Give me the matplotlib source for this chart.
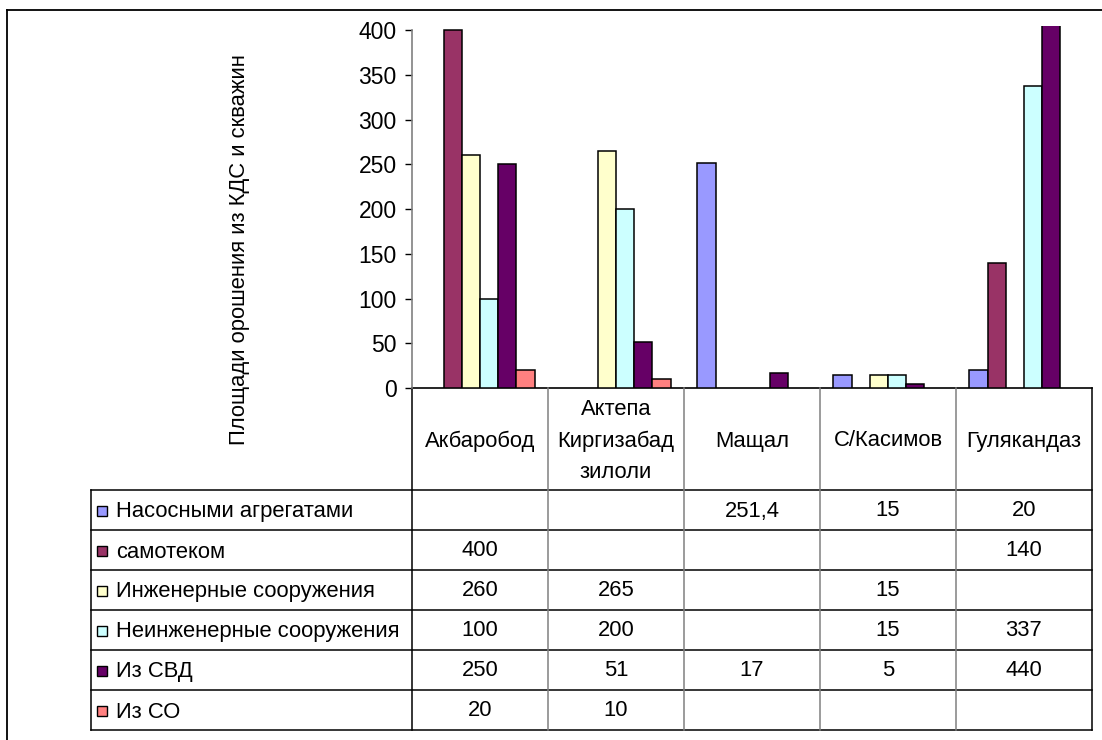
import numpy as np
import matplotlib
matplotlib.use("Agg")
import matplotlib.pyplot as plt
from matplotlib.transforms import blended_transform_factory

plt.rcParams['font.family'] = ['Liberation Sans', 'DejaVu Sans']

categories = ["Акбаробод", "Актепа\nКиргизабад\nзилоли", "Мащал", "С/Касимов", "Гулякандаз"]
series_names = ["Насосными агрегатами", "самотеком", "Инженерные сооружения",
                "Неинженерные сооружения", "Из СВД", "Из СО"]
nasos = [np.nan, np.nan, 251.4, 15, 20]
samotek = [400, np.nan, np.nan, np.nan, 140]
inzh = [260, 265, np.nan, 15, np.nan]
neinzh = [100, 200, np.nan, 15, 337]
iz_svd = [250, 51, 17, 5, 440]
iz_so = [20, 10, np.nan, np.nan, np.nan]
values = [nasos, samotek, inzh, neinzh, iz_svd, iz_so]
colors = ["#9999FF", "#993366", "#FFFFCC", "#CCFFFF", "#660066", "#FF8080"]

y_ticks = [0, 50, 100, 150, 200, 250, 300, 350, 400]
y_label = "Площади орошения из КДС и скважин"

W, H = 1102, 740
FS = 15.8


def fmt(v):
    if np.isnan(v):
        return ""
    if float(v).is_integer():
        return str(int(v))
    return str(v).replace(".", ",")


fig = plt.figure(figsize=(W / 100, H / 100), dpi=100)

# plot area
ax = fig.add_axes([412 / W, (H - 388) / H, (1092 - 412) / W, (388 - 26) / H])
x = np.arange(len(categories))
bw = 0.134
for i, (vals, c) in enumerate(zip(values, colors)):
    ax.bar(x + (i - 2.5) * bw, vals, width=bw, color=c, edgecolor="black",
           linewidth=1.1, zorder=3)
ax.set_xlim(-0.5, len(categories) - 0.5)
ax.set_ylim(0, 404.5)
ax.set_yticks(y_ticks)
ax.set_yticklabels([str(t) for t in y_ticks], fontsize=16.5)
ax.tick_params(axis="y", length=5, width=1, pad=6, direction="out")
ax.set_xticks([])
for s in ["top", "right", "bottom"]:
    ax.spines[s].set_visible(False)
ax.spines["left"].set_bounds(0, 400)
ax.spines["left"].set_color("#808080")
ax.spines["left"].set_linewidth(1.2)
ax.patch.set_alpha(0)

# overlay in pixel coordinates for the frame and the data table
ov = fig.add_axes([0, 0, 1, 1], zorder=-1)
ov.set_xlim(0, W)
ov.set_ylim(H, 0)
ov.axis("off")

# outer frame
ov.plot([7, W + 5], [10, 10], color="black", lw=1.3)
ov.plot([7, 7], [10, H + 5], color="black", lw=1.3)

fig.text(240 / W, 1 - 250 / H, y_label, rotation=90, ha="center", va="center",
         fontsize=FS)

tr = blended_transform_factory(ax.transData, ov.transData)

header_top, header_bot = 388, 490
row_h = 40
table_left, table_right = 91, 1092
table_bot = header_bot + row_h * len(series_names)

# table grid
ov.plot([412, table_right], [header_top, header_top], color="black", lw=1.2)
for k in range(len(series_names) + 1):
    yy = header_bot + k * row_h
    ov.plot([table_left, table_right], [yy, yy], color="black", lw=1.1)
ov.plot([table_left, table_left], [header_bot, table_bot], color="black", lw=1.1)
for k in range(len(categories) + 1):
    xx = 412 + k * 136
    ov.plot([xx, xx], [header_top, table_bot],
            color="black" if k in (0, len(categories)) else "#808080", lw=1.1)

# category headers
for i, cat in enumerate(categories):
    ov.text(i, (header_top + header_bot) / 2 + 2, cat, transform=tr, ha="center",
            va="center", fontsize=FS, linespacing=1.62)

# series rows with legend keys and values
for r, (name, vals, c) in enumerate(zip(series_names, values, colors)):
    yc = header_bot + r * row_h + row_h / 2
    ov.add_patch(plt.Rectangle((97, yc - 4), 10, 10, facecolor=c,
                               edgecolor="black", lw=1))
    ov.text(116, yc + 2, name, ha="left", va="center", fontsize=FS)
    for i, v in enumerate(vals):
        ov.text(i, yc + 1, fmt(v), transform=tr, ha="center", va="center",
                fontsize=FS)

fig.savefig("out.png", dpi=100)
